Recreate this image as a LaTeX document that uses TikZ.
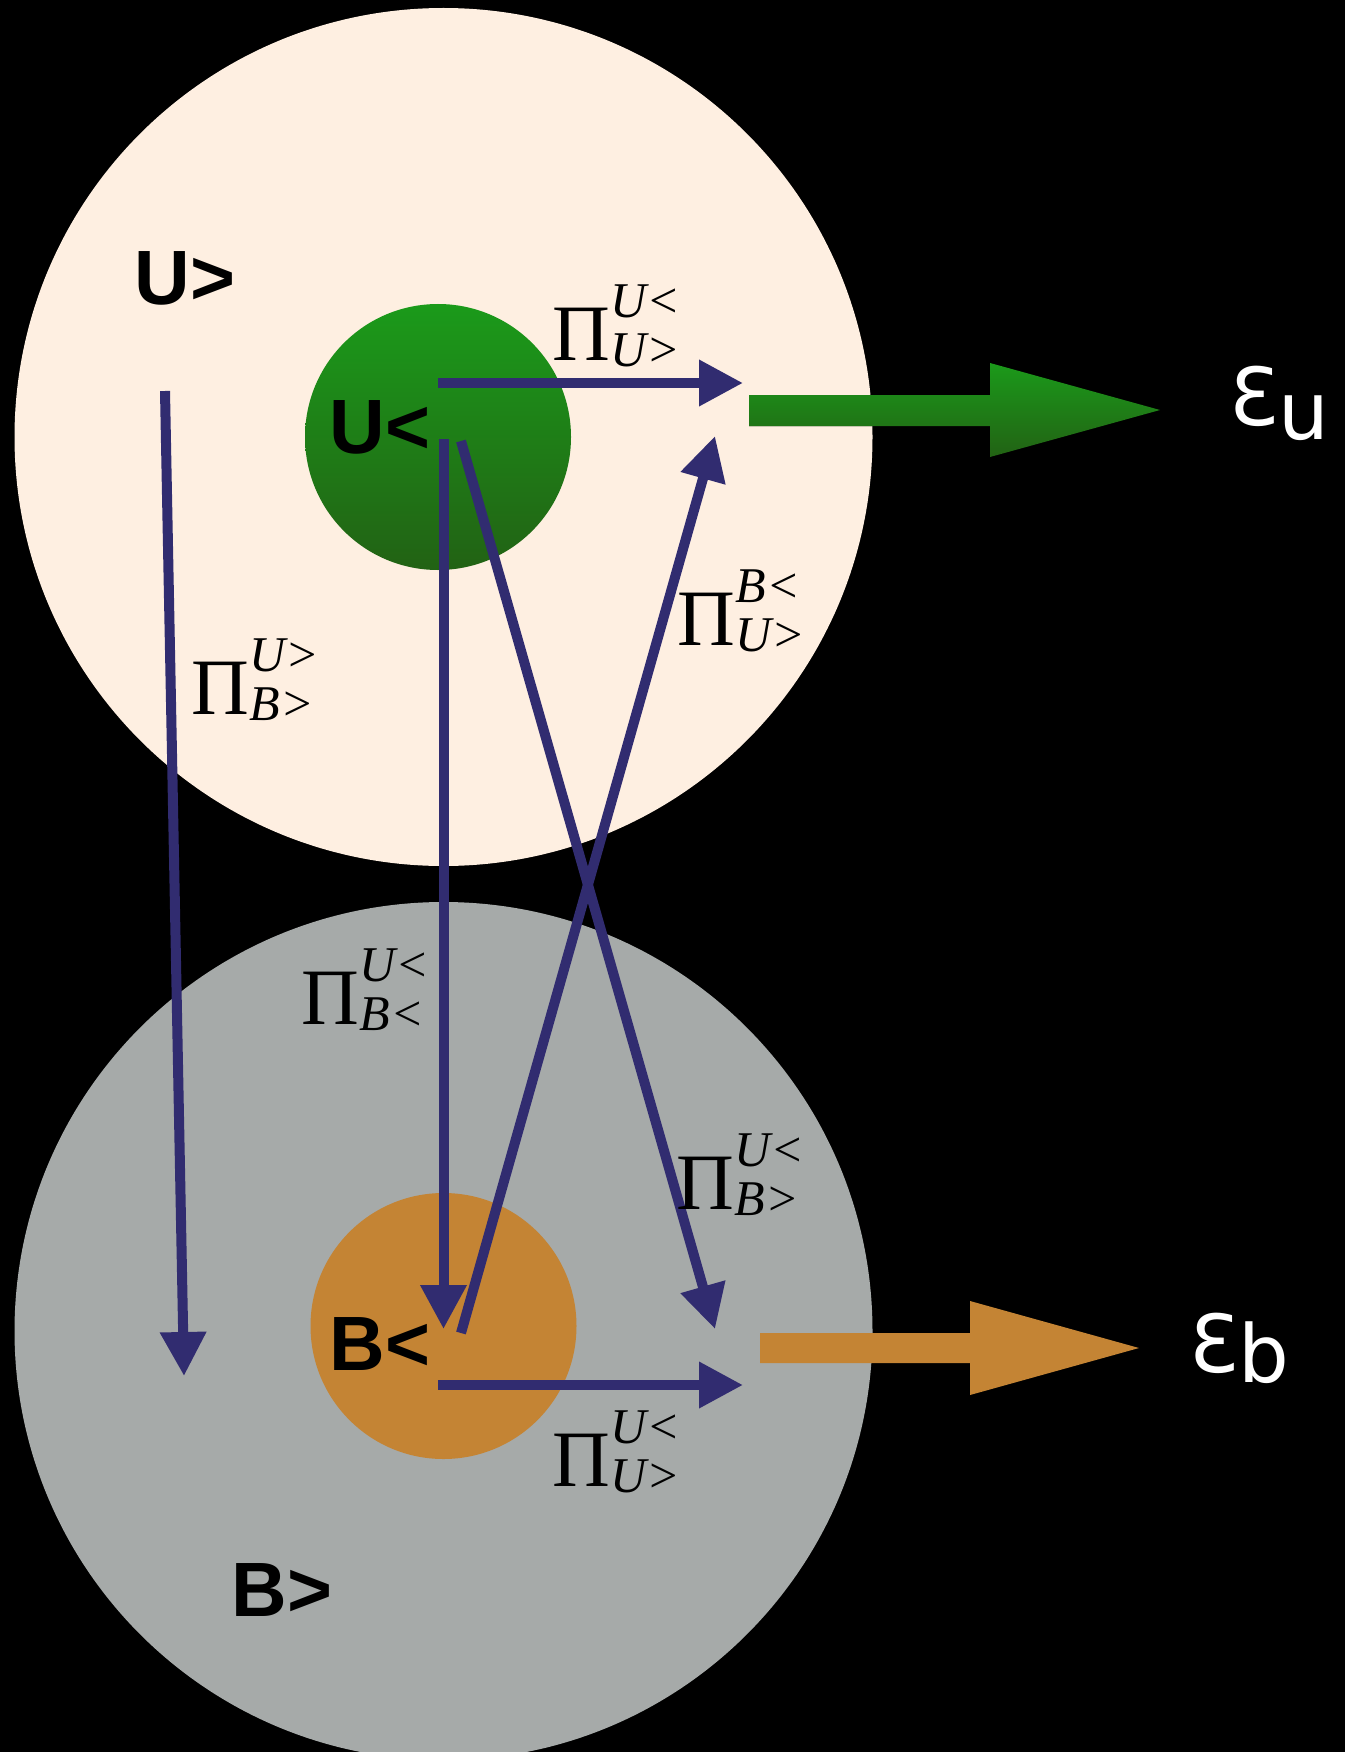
\documentclass[tikz,border=0pt]{standalone}
\usepackage{fontspec}
\usepackage{amsmath}
\setmainfont{Liberation Serif}
\newfontfamily\lblsans{Liberation Sans}
\newfontfamily\epsfont{DejaVu Sans}
\usetikzlibrary{arrows.meta}
\DeclareMathSizes{80}{80}{50}{38}
\definecolor{peach}{RGB}{254,239,225}
\definecolor{greyc}{RGB}{166,170,169}
\definecolor{greentop}{RGB}{27,154,26}
\definecolor{greenbot}{RGB}{34,98,20}
\definecolor{orangec}{RGB}{196,132,52}
\definecolor{navy}{RGB}{49,44,112}
\newcommand\pilab[2]{$\text{Π}^{\text{\itshape #1}}_{\text{\itshape #2}}$}
\tikzset{
  bigcirc/.style={circle, inner sep=0pt, minimum size=858pt},
  smallcirc/.style={circle, inner sep=0pt, minimum size=266pt},
  setlbl/.style={inner sep=0pt, font=\lblsans\bfseries\fontsize{77}{77}\selectfont, text=black},
  pilbl/.style={inner sep=0pt, font=\fontsize{80}{80}\selectfont, text=black},
  epslbl/.style={inner sep=0pt, anchor=base west, font=\epsfont\fontsize{80}{80}\selectfont, text=white},
  flow/.style={navy, line width=10pt, -{Triangle[length=44pt,width=44pt]}},
}
\begin{document}
\begin{tikzpicture}[x=1pt,y=-1pt]
\useasboundingbox (0,0) rectangle (1345,1752);
\clip (0,0) rectangle (1345,1752);
\fill[black] (0,0) rectangle (1345,1752);
% big circles
\node[bigcirc, fill=peach] (Uout) at (443.5,437) {};
\node[bigcirc, fill=greyc] (Bout) at (443.5,1331) {};
% small circles
\node[smallcirc, top color=greentop, bottom color=greenbot] (Uin) at (438,437) {};
\node[smallcirc, fill=orangec] (Bin) at (443.5,1326) {};
% set labels
\node[setlbl] (lUg) at (185,278) {U>};
\node[setlbl] (lUl) at (380,427) {U<};
\node[setlbl] (lBl) at (380,1344) {B<};
\node[setlbl] (lBg) at (282,1590) {B>};
% big output arrows
\fill[top color=greentop, bottom color=greenbot]
  (749,395) -- (990,395) -- (990,363) -- (1160,410) -- (990,457) -- (990,426) -- (749,426) -- cycle;
\fill[orangec]
  (760,1333) -- (970,1333) -- (970,1301) -- (1139,1348) -- (970,1395) -- (970,1363) -- (760,1363) -- cycle;
\node[epslbl] (eu) at (1229,425) {Ɛ\raisebox{-14pt}{u}};
\node[epslbl] (eb) at (1189,1372) {Ɛ\raisebox{-10pt}{b}};
% flow coordinates
\coordinate (s1) at (438,383);  \coordinate (t1) at (743,383);
\coordinate (s2) at (165,391);  \coordinate (t2) at (184,1376);
\coordinate (s3) at (443.5,439); \coordinate (t3) at (443.5,1329);
\coordinate (s4) at (461,441);  \coordinate (t4) at (715,1329);
\coordinate (s5) at (461,1333); \coordinate (t5) at (715,436);
\coordinate (s6) at (438,1385); \coordinate (t6) at (743,1385);
\draw[flow] (s2) -- (t2);
\draw[flow] (s3) -- (t3);
\draw[flow] (s4) -- (t4);
\draw[flow] (s5) -- (t5);
\draw[flow] (s1) -- (t1);
\draw[flow] (s6) -- (t6);
% projection labels
\node[pilbl] (p1) at (617,326) {\pilab{U<}{U>}};
\node[pilbl] (p2) at (256,680) {\pilab{U>}{B>}};
\node[pilbl] (p3) at (742,611) {\pilab{B<}{U>}};
\node[pilbl] (p4) at (366,990) {\pilab{U<}{B<}};
\node[pilbl] (p5) at (741,1175) {\pilab{U<}{B>}};
\node[pilbl] (p6) at (617,1452) {\pilab{U<}{U>}};
\end{tikzpicture}
\end{document}
